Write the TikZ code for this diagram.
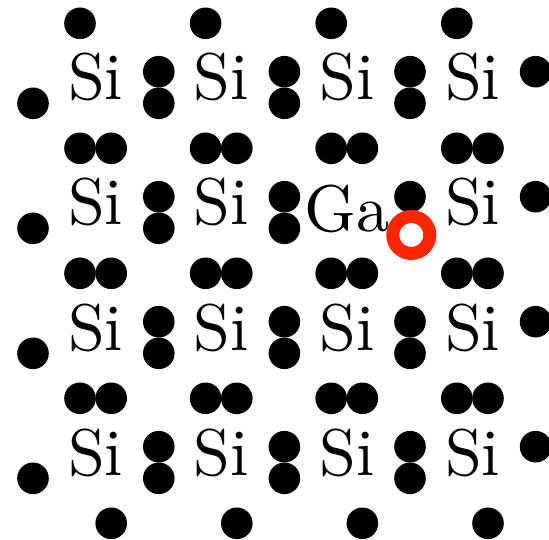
\documentclass[tikz,border=0pt]{standalone}
\usepackage{fontspec}
\setmainfont{lmroman10-regular.otf}
\definecolor{holered}{RGB}{255,38,0}
\tikzset{
  electron/.style={fill=black},
  atomlabel/.style={anchor=base,inner sep=0pt,font=\fontsize{66}{66}\selectfont},
  hole/.style={draw=holered,line width=13pt}
}
\begin{document}
\begin{tikzpicture}[x=1pt,y=-1pt]
\useasboundingbox (0,0) rectangle (549,540);
\def\r{15.8}
\foreach \i in {0,...,3}{
  \foreach \j in {0,...,3}{
    \pgfmathsetmacro\X{95.8+125.6*\i}
    \pgfmathsetmacro\Y{100+125*\j}
    % atom label
    \ifnum\i=2 \ifnum\j=1
      \node[atomlabel] (ga) at (347,232) {Ga};
    \else
      \node[atomlabel] (si-\i-\j) at (\X,\Y) {Si};
    \fi\else
      \node[atomlabel] (si-\i-\j) at (\X,\Y) {Si};
    \fi
    % horizontal pair below
    \ifnum\j<3
      \fill[electron] (\X-15.8,\Y+48.3) circle (\r);
    \fi
    \fill[electron] (\X+15.4,\Y+48.3) circle (\r);
    % top single
    \ifnum\j=0
      \fill[electron] (\X-15.8,\Y-76.7) circle (\r);
    \fi
    % vertical pair right
    \fill[electron] (\X+63,\Y-28.3) circle (\r);
    \ifnum\i<3
      \ifnum\i=2 \ifnum\j=1 \else
        \fill[electron] (\X+63,\Y+3.3) circle (\r);
      \fi\else
        \fill[electron] (\X+63,\Y+3.3) circle (\r);
      \fi
    \fi
    % left single
    \ifnum\i=0
      \fill[electron] (\X-62.8,\Y+3.3) circle (\r);
    \fi
  }
}
\draw[hole] (411.3,235) circle (18.5);
\end{tikzpicture}
\end{document}
